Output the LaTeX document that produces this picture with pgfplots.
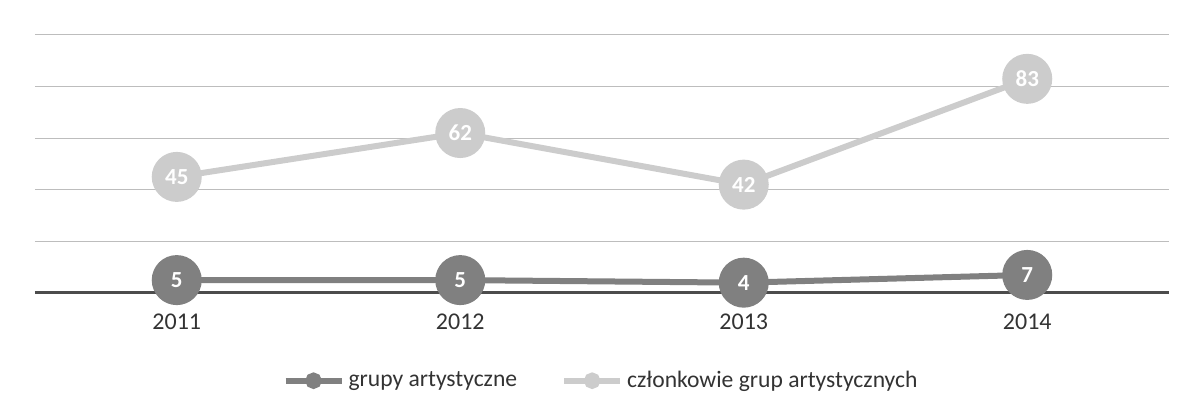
\documentclass[border=0pt]{standalone}
\usepackage{pgfplots}
\pgfplotsset{compat=1.18}
\usepackage{fontspec}
\setmainfont{Carlito}
\definecolor{darkser}{gray}{0.50}
\definecolor{lightser}{gray}{0.80}
\definecolor{gridc}{gray}{0.74}
\begin{document}
\begin{tikzpicture}
\useasboundingbox (0,0) rectangle (595.5pt,205.5pt);
\begin{axis}[
  at={(17.5pt,59pt)}, anchor=south west,
  scale only axis, width=567pt, height=129pt,
  xmin=-0.5, xmax=3.5, ymin=0, ymax=100,
  xtick={0,1,2,3}, xticklabels={2011,2012,2013,2014},
  ytick={0,20,40,60,80,100}, yticklabels={},
  major tick length=0pt,
  axis line style={draw=none},
  ymajorgrids, grid style={gridc, line width=0.5pt},
  tick label style={font=\fontsize{12}{14}\selectfont, text=black!80},
  /pgf/number format/assume math mode=true,
  xticklabel style={yshift=-7pt},
  legend style={at={(axis description cs:0.5,-0.34)}, anchor=center, draw=none, fill=none,
    legend columns=2, font=\fontsize{11.8}{14}\selectfont, text=black!80,
    /tikz/every even column/.append style={column sep=20pt},
    /tikz/every odd column/.append style={},
    nodes={inner xsep=2pt}},
  legend image code/.code={
    \draw[#1, mark=none] (0pt,0pt) -- (28pt,0pt);
    \draw[#1, mark=*, mark size=2.6pt, only marks] plot coordinates {(14pt,0pt)};
  },
  nodes near coords, point meta=explicit,
  every node near coord/.append style={anchor=center, font=\fontsize{11.5}{13}\selectfont\bfseries, text=white},
  clip=false,
]
\draw[black!70, line width=1.5pt] (axis cs:-0.5,0) -- (axis cs:3.5,0);
\addplot[darkser, line width=3pt, mark=*, mark size=11pt, mark options={fill=darkser, draw=darkser}]
  coordinates {(0,5)[5] (1,5)[5] (2,4)[4] (3,7)[7]};
\addlegendentry{grupy artystyczne}
\addplot[lightser, line width=3pt, mark=*, mark size=11pt, mark options={fill=lightser, draw=lightser}]
  coordinates {(0,45)[45] (1,62)[62] (2,42)[42] (3,83)[83]};
\addlegendentry{członkowie grup artystycznych}
\end{axis}
\end{tikzpicture}
\end{document}
